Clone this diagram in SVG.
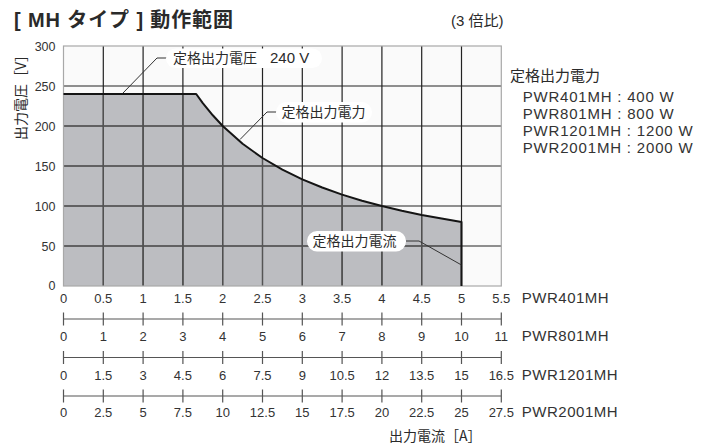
<svg xmlns="http://www.w3.org/2000/svg" xmlns:xlink="http://www.w3.org/1999/xlink" width="710" height="444" viewBox="0 0 710 444">
<style>
.jp{font-family:"Noto Sans CJK JP",sans-serif;fill:#2a2a2a}
.mix{font-family:"Liberation Sans","Noto Sans CJK JP",sans-serif;fill:#2a2a2a}
.num{font-family:"Liberation Sans",Arial,sans-serif;font-size:13px;fill:#333;text-anchor:middle}
.ynum{font-family:"Liberation Sans",Arial,sans-serif;font-size:12.5px;fill:#333;text-anchor:end}
.model{font-family:"Liberation Sans",Arial,sans-serif;font-size:15px;fill:#333}
.axis{stroke:#555;stroke-width:1.2;fill:none}
.leader{stroke:#333;stroke-width:1;fill:none}
.pill{fill:#fff}
</style>
<defs>
<path id="area" d="M63.5,286 L63.5,94 L196.2,94 L202.8,103.1 L212.8,115.3 L222.7,126 L242.6,143.8 L262.5,158 L282.4,169.6 L302.3,179.3 L322.2,187.5 L342.1,194.6 L362,200.7 L381.9,206 L401.8,210.7 L421.7,214.9 L441.6,218.6 L461.5,222 L461.5,286 Z"/>
<clipPath id="areaClip"><use xlink:href="#area"/></clipPath>
<path id="gridpath" fill="none" d="M103.3,46V286M143.1,46V286M182.9,46V286M222.7,46V286M262.5,46V286M302.3,46V286M342.1,46V286M381.9,46V286M421.7,46V286M461.5,46V286M63.5,86H501.3M63.5,126H501.3M63.5,166H501.3M63.5,206H501.3M63.5,246H501.3"/>
</defs>

<g id="title">
<text class="mix" x="14" y="27" font-size="20" font-weight="bold" textLength="219" lengthAdjust="spacing">[ MH タイプ ] 動作範囲</text>
<text class="mix" x="451" y="26" font-size="15">(3 倍比)</text>
</g>

<g id="plot">
<rect x="63.5" y="46" width="437.8" height="240" fill="#fafafa"/>
<use xlink:href="#area" fill="#bcbdc1"/>
<use xlink:href="#gridpath" stroke="#222" stroke-width="1.2"/>
<use xlink:href="#gridpath" stroke="#555" stroke-width="1.2" clip-path="url(#areaClip)"/>
<rect x="63.5" y="46" width="437.8" height="240" fill="none" stroke="#a8a8a8" stroke-width="1.2"/>
<polyline points="63.5,94 196.2,94 202.8,103.1 212.8,115.3 222.7,126 242.6,143.8 262.5,158 282.4,169.6 302.3,179.3 322.2,187.5 342.1,194.6 362,200.7 381.9,206 401.8,210.7 421.7,214.9 441.6,218.6 461.5,222 461.5,286" fill="none" stroke="#151515" stroke-width="2" stroke-linejoin="round"/>
</g>

<g id="connectors">
<polyline class="leader" points="123,93 157,58 168,58"/>
<polyline class="leader" points="240,139.5 267,112 277,112"/>
<polyline class="leader" points="406,241 419,241 461.5,265"/>
</g>

<g id="label-voltage">
<rect class="pill" x="166" y="48.5" width="156" height="19.5" rx="9.75"/>
<text class="jp" x="173" y="63" font-size="14">定格出力電圧<tspan font-family="Liberation Sans,sans-serif" font-size="15" x="270">240 V</tspan></text>
</g>
<g id="label-power">
<rect class="pill" x="276" y="102" width="96" height="20.5" rx="10"/>
<text class="jp" x="281.5" y="117" font-size="14">定格出力電力</text>
</g>
<g id="label-current">
<rect class="pill" x="307" y="231" width="99" height="20.5" rx="10"/>
<text class="jp" x="312.5" y="246" font-size="14">定格出力電流</text>
</g>

<g id="y-axis">
<text class="ynum" x="55.5" y="50.5">300</text>
<text class="ynum" x="55.5" y="90.5">250</text>
<text class="ynum" x="55.5" y="130.5">200</text>
<text class="ynum" x="55.5" y="170.5">150</text>
<text class="ynum" x="55.5" y="210.5">100</text>
<text class="ynum" x="55.5" y="250.5">50</text>
<text class="ynum" x="55.5" y="290">0</text>
<text class="jp" font-size="14" text-anchor="middle" transform="translate(25.5,94) rotate(-90)">出力電圧［V］</text>
</g>

<g id="legend">
<text class="jp" x="510" y="80.5" font-size="15">定格出力電力</text>
<text class="model" x="522.7" y="102" textLength="151" lengthAdjust="spacing">PWR401MH : 400 W</text>
<text class="model" x="522.7" y="119" textLength="151" lengthAdjust="spacing">PWR801MH : 800 W</text>
<text class="model" x="522.7" y="136" textLength="170" lengthAdjust="spacing">PWR1201MH : 1200 W</text>
<text class="model" x="522.7" y="153" textLength="170" lengthAdjust="spacing">PWR2001MH : 2000 W</text>
</g>

<g id="x-axis-401">
<text class="num" x="63.5" y="302.5">0</text>
<text class="num" x="103.3" y="302.5">0.5</text>
<text class="num" x="143.1" y="302.5">1</text>
<text class="num" x="182.9" y="302.5">1.5</text>
<text class="num" x="222.7" y="302.5">2</text>
<text class="num" x="262.5" y="302.5">2.5</text>
<text class="num" x="302.3" y="302.5">3</text>
<text class="num" x="342.1" y="302.5">3.5</text>
<text class="num" x="381.9" y="302.5">4</text>
<text class="num" x="421.7" y="302.5">4.5</text>
<text class="num" x="461.5" y="302.5">5</text>
<text class="num" x="501.3" y="302.5">5.5</text>
<text class="model" x="521.7" y="302.5" textLength="87" lengthAdjust="spacing">PWR401MH</text>
</g>

<g id="x-axis-801">
<path class="axis" d="M63.5,319H501.3M63.5,312.5V325.5M103.3,312.5V325.5M143.1,312.5V325.5M182.9,312.5V325.5M222.7,312.5V325.5M262.5,312.5V325.5M302.3,312.5V325.5M342.1,312.5V325.5M381.9,312.5V325.5M421.7,312.5V325.5M461.5,312.5V325.5M501.3,312.5V325.5"/>
<text class="num" x="63.5" y="341">0</text>
<text class="num" x="103.3" y="341">1</text>
<text class="num" x="143.1" y="341">2</text>
<text class="num" x="182.9" y="341">3</text>
<text class="num" x="222.7" y="341">4</text>
<text class="num" x="262.5" y="341">5</text>
<text class="num" x="302.3" y="341">6</text>
<text class="num" x="342.1" y="341">7</text>
<text class="num" x="381.9" y="341">8</text>
<text class="num" x="421.7" y="341">9</text>
<text class="num" x="461.5" y="341">10</text>
<text class="num" x="501.3" y="341">11</text>
<text class="model" x="521.7" y="341" textLength="87" lengthAdjust="spacing">PWR801MH</text>
</g>

<g id="x-axis-1201">
<path class="axis" d="M63.5,357.5H501.3M63.5,351V364M103.3,351V364M143.1,351V364M182.9,351V364M222.7,351V364M262.5,351V364M302.3,351V364M342.1,351V364M381.9,351V364M421.7,351V364M461.5,351V364M501.3,351V364"/>
<text class="num" x="63.5" y="379.5">0</text>
<text class="num" x="103.3" y="379.5">1.5</text>
<text class="num" x="143.1" y="379.5">3</text>
<text class="num" x="182.9" y="379.5">4.5</text>
<text class="num" x="222.7" y="379.5">6</text>
<text class="num" x="262.5" y="379.5">7.5</text>
<text class="num" x="302.3" y="379.5">9</text>
<text class="num" x="342.1" y="379.5">10.5</text>
<text class="num" x="381.9" y="379.5">12</text>
<text class="num" x="421.7" y="379.5">13.5</text>
<text class="num" x="461.5" y="379.5">15</text>
<text class="num" x="501.3" y="379.5">16.5</text>
<text class="model" x="521.7" y="379.5" textLength="96" lengthAdjust="spacing">PWR1201MH</text>
</g>

<g id="x-axis-2001">
<path class="axis" d="M63.5,396H501.3M63.5,389.5V402.5M103.3,389.5V402.5M143.1,389.5V402.5M182.9,389.5V402.5M222.7,389.5V402.5M262.5,389.5V402.5M302.3,389.5V402.5M342.1,389.5V402.5M381.9,389.5V402.5M421.7,389.5V402.5M461.5,389.5V402.5M501.3,389.5V402.5"/>
<text class="num" x="63.5" y="417">0</text>
<text class="num" x="103.3" y="417">2.5</text>
<text class="num" x="143.1" y="417">5</text>
<text class="num" x="182.9" y="417">7.5</text>
<text class="num" x="222.7" y="417">10</text>
<text class="num" x="262.5" y="417">12.5</text>
<text class="num" x="302.3" y="417">15</text>
<text class="num" x="342.1" y="417">17.5</text>
<text class="num" x="381.9" y="417">20</text>
<text class="num" x="421.7" y="417">22.5</text>
<text class="num" x="461.5" y="417">25</text>
<text class="num" x="501.3" y="417">27.5</text>
<text class="model" x="521.7" y="417" textLength="96" lengthAdjust="spacing">PWR2001MH</text>
<text class="jp" x="389" y="440.5" font-size="14">出力電流［A］</text>
</g>
</svg>
